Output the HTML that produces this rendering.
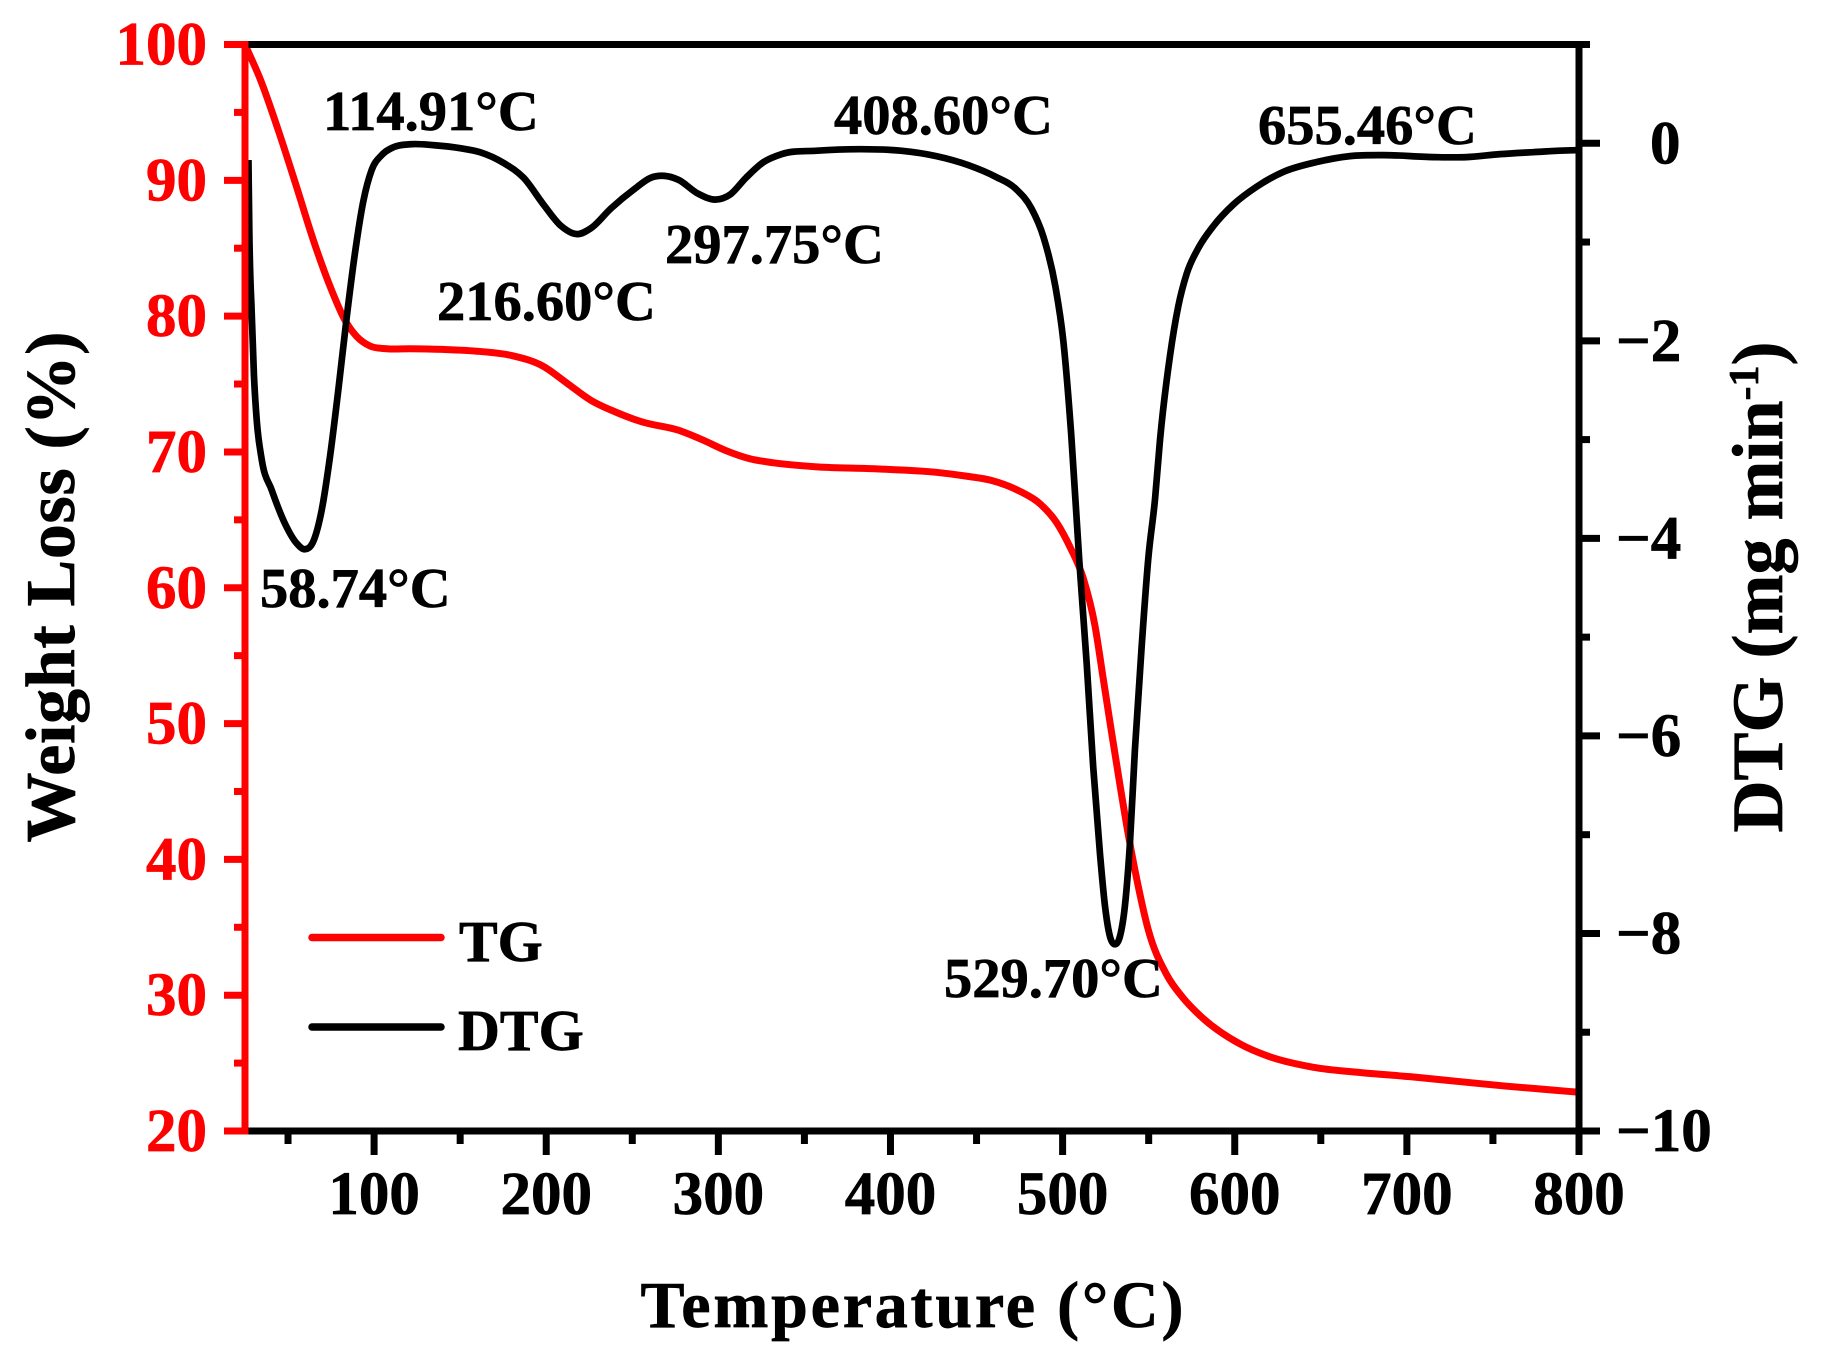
<!DOCTYPE html>
<html>
<head>
<meta charset="utf-8">
<title>TG and DTG curves</title>
<style>
html,body{margin:0;padding:0;background:#fff;}
svg{display:block;}
text{font-family:"Liberation Serif",serif;font-weight:bold;stroke:#000;stroke-width:.7;}
text.red{stroke:#f00;}
</style>
</head>
<body>
<svg id="chart" xmlns="http://www.w3.org/2000/svg" width="1822" height="1359" viewBox="0 0 1822 1359">
<rect x="0" y="0" width="1822" height="1359" fill="#fff"/>
<g id="marks"></g>
<g id="axes"></g>
<g font-size="56.5" fill="#000">
<text x="323" y="130">114.91°C</text>
<text x="437" y="320">216.60°C</text>
<text x="665" y="263">297.75°C</text>
<text x="834" y="134">408.60°C</text>
<text x="1258" y="144">655.46°C</text>
<text x="944" y="997">529.70°C</text>
<text x="260" y="607">58.74°C</text>
</g>
<g>
<line x1="312" y1="937.5" x2="441" y2="937.5" stroke="#f00" stroke-width="7.5" stroke-linecap="round"/>
<text x="459" y="961" font-size="58">TG</text>
<line x1="312" y1="1027" x2="441" y2="1027" stroke="#000" stroke-width="7.5" stroke-linecap="round"/>
<text x="458" y="1050" font-size="58">DTG</text>
</g>
<text x="912" y="1327" font-size="66" text-anchor="middle" textLength="543" lengthAdjust="spacing">Temperature (°C)</text>
<text transform="translate(74,587) rotate(-90)" font-size="70" text-anchor="middle" textLength="511" lengthAdjust="spacing">Weight Loss (%)</text>
<text transform="translate(1782,587) rotate(-90)" font-size="72" text-anchor="middle">DTG (mg min<tspan dy="-24" font-size="42">-1</tspan><tspan dy="24">)</tspan></text>
</svg>
<script>
// ---- chart data ----
const tgTemps = [25,34,44.3,55,64.7,74.4,83.1,89.9,97.6,107.3,120.9,140,161.5,179.9,198.4,212.2,226,239.9,256,276.8,290.6,304.4,318.3,332.1,357.5,392,426.6,445,458.8,475.2,486.9,496.5,504.3,512,518.8,523.6,528.5,533.3,538.2,543,549.8,560.5,570,579.8,603.2,619.6,645.3,673.4,701.7,729.7,757.9,786,800];
const tgWeight = [100,97.4,93.7,89.5,85.6,82.2,79.7,78.5,77.8,77.6,77.6,77.55,77.4,77.1,76.3,75.05,73.8,72.96,72.2,71.6,70.9,70.1,69.5,69.2,68.9,68.75,68.5,68.2,67.9,67.1,66.18,64.8,63,60.7,57.2,53.3,49.3,45.5,41.8,38.6,34.8,31.5,29.8,28.5,26.4,25.5,24.7,24.3,24,23.65,23.3,23,22.85];
const dtgTemps = [27,27.5,28.9,30.2,31.8,34.7,40.5,48.2,55,59.9,64.7,69.6,74.4,79.2,84.1,88.9,93.7,98.6,104.4,111.2,120.9,135,150,161.5,175.3,186.9,198.4,208.8,218,226,237.6,251.5,260.6,268.7,276.8,288.2,298.6,306.8,316,326.3,336.7,357.5,382.9,405.9,426.6,445,461.2,472.7,481.9,488.9,495.8,500.4,505,509.7,514,517.8,521.7,524.6,527.5,530.4,533.3,536.2,539.1,542,545.9,549.8,553.7,556.6,562.4,567.2,572.1,578.9,587.5,599.2,612.7,628.2,647.6,667,686.3,715.4,734.7,754.1,773.4,798.7,800];
const dtgValues = [-0.17,-0.88,-1.72,-2.35,-2.8,-3.2,-3.51,-3.85,-4.05,-4.11,-4.03,-3.71,-3.17,-2.5,-1.76,-1.11,-0.59,-0.27,-0.12,-0.04,-0.01,-0.02,-0.05,-0.09,-0.2,-0.35,-0.62,-0.84,-0.92,-0.86,-0.66,-0.46,-0.35,-0.33,-0.37,-0.51,-0.57,-0.52,-0.35,-0.19,-0.11,-0.075,-0.06,-0.075,-0.13,-0.22,-0.34,-0.46,-0.66,-0.95,-1.45,-2.0,-2.95,-4.23,-5.27,-6.32,-7.19,-7.72,-8.03,-8.11,-8.03,-7.72,-7.09,-6.14,-5.1,-4.2,-3.6,-3.0,-2.15,-1.65,-1.32,-1.06,-0.84,-0.62,-0.44,-0.29,-0.19,-0.13,-0.12,-0.14,-0.14,-0.11,-0.09,-0.07,-0.07];
const xMajorTicks = [100,200,300,400,500,600,700,800];
const xMinorTicks = [50,150,250,350,450,550,650,750];
const leftMajorTicks = [20,30,40,50,60,70,80,90,100];
const leftMinorTicks = [25,35,45,55,65,75,85,95];
const rightMajorTicks = [-10,-8,-6,-4,-2,0];
const rightMinorTicks = [-9,-7,-5,-3,-1,1];
const xDomain = [25,800];
const leftDomain = [20,100];
const rightDomain = [-10,1];

// ---- scales ----
const plot = {left:245, right:1579, top:44.5, bottom:1131};
function xScale(t){ return plot.left + (t - xDomain[0]) / (xDomain[1] - xDomain[0]) * (plot.right - plot.left); }
function leftScale(v){ return plot.bottom - (v - leftDomain[0]) / (leftDomain[1] - leftDomain[0]) * (plot.bottom - plot.top); }
function rightScale(v){ return plot.bottom - (v - rightDomain[0]) / (rightDomain[1] - rightDomain[0]) * (plot.bottom - plot.top); }

const NS = 'http://www.w3.org/2000/svg';
function mk(tag, parent, attrs, txt){
  const el = document.createElementNS(NS, tag);
  for (const k in attrs) el.setAttribute(k, attrs[k]);
  if (txt !== undefined) el.textContent = txt;
  parent.appendChild(el);
  return el;
}
// cubic Hermite through points, tangents from non-uniform three-point differences
function smoothPath(pts){
  const n = pts.length, m = [];
  for (let i = 0; i < n; i++){
    if (i === 0) m.push((pts[1][1]-pts[0][1])/(pts[1][0]-pts[0][0]));
    else if (i === n-1) m.push((pts[n-1][1]-pts[n-2][1])/(pts[n-1][0]-pts[n-2][0]));
    else {
      const h0 = pts[i][0]-pts[i-1][0], h1 = pts[i+1][0]-pts[i][0];
      const d0 = (pts[i][1]-pts[i-1][1])/h0, d1 = (pts[i+1][1]-pts[i][1])/h1;
      m.push((d0*h1 + d1*h0)/(h0+h1));
    }
  }
  let d = 'M' + pts[0][0].toFixed(2) + ' ' + pts[0][1].toFixed(2);
  for (let i = 0; i < n-1; i++){
    const h = pts[i+1][0]-pts[i][0];
    const vals = [pts[i][0]+h/3, pts[i][1]+m[i]*h/3, pts[i+1][0]-h/3, pts[i+1][1]-m[i+1]*h/3, pts[i+1][0], pts[i+1][1]];
    d += 'C' + vals.map(v => v.toFixed(2)).join(' ');
  }
  return d;
}

const marks = document.getElementById('marks');
const axes = document.getElementById('axes');

const dtgLine = mk('path', marks, {d:smoothPath(dtgTemps.map((t,i)=>[xScale(t),rightScale(dtgValues[i])])), fill:'none', stroke:'#000', 'stroke-width':6.7, 'stroke-linejoin':'round'});


const tgLine = mk('path', marks, {d:smoothPath(tgTemps.map((t,i)=>[xScale(t),leftScale(tgWeight[i])])), fill:'none', stroke:'#f00', 'stroke-width':7, 'stroke-linejoin':'round'});


marks.insertBefore(tgLine, dtgLine);

const W = 7;
// frame lines
const topAxis = mk('line', axes, {x1:plot.left, y1:plot.top, x2:plot.right+3.5, y2:plot.top, stroke:'#000', 'stroke-width':W});


const bottomAxis = mk('line', axes, {x1:plot.left, y1:plot.bottom, x2:plot.right+3.5, y2:plot.bottom, stroke:'#000', 'stroke-width':W});


const rightAxis = mk('line', axes, {x1:plot.right, y1:plot.top-3.5, x2:plot.right, y2:plot.bottom+3.5, stroke:'#000', 'stroke-width':W});


const leftAxis = mk('line', axes, {x1:plot.left, y1:plot.top-3.5, x2:plot.left, y2:plot.bottom+3.5, stroke:'#f00', 'stroke-width':W});



// x ticks
xMajorTicks.forEach(t => {
  const x = xScale(t);
  const tick = mk('line', axes, {x1:x, y1:plot.bottom, x2:x, y2:plot.bottom+24, stroke:'#000', 'stroke-width':W});
  
  
  const lab = mk('text', axes, {x:x, y:1214, 'font-size':61, 'text-anchor':'middle', fill:'#000'}, String(t));
  
  
});
xMinorTicks.forEach(t => {
  const x = xScale(t);
  const tick = mk('line', axes, {x1:x, y1:plot.bottom, x2:x, y2:plot.bottom+13, stroke:'#000', 'stroke-width':W});
  
  
});
// left ticks
leftMajorTicks.forEach(v => {
  const y = leftScale(v);
  const tick = mk('line', axes, {x1:plot.left-21, y1:y, x2:plot.left, y2:y, stroke:'#f00', 'stroke-width':W});
  
  
  const lab = mk('text', axes, {x:207, y:y+20, 'font-size':61, 'text-anchor':'end', fill:'#f00', class:'red'}, String(v));
  
  
});
leftMinorTicks.forEach(v => {
  const y = leftScale(v);
  const tick = mk('line', axes, {x1:plot.left-11, y1:y, x2:plot.left, y2:y, stroke:'#f00', 'stroke-width':W});
  
  
});
// right ticks
rightMajorTicks.forEach(v => {
  const y = rightScale(v);
  const tick = mk('line', axes, {x1:plot.right, y1:y, x2:plot.right+21, y2:y, stroke:'#000', 'stroke-width':W});
  
  
  const lab = mk('text', axes, {x:1616, y:y+20, 'font-size':61, fill:'#000'}, v < 0 ? '\u2212' + Math.abs(v) : String(v));
  
  
  if (v === 0) lab.setAttribute('x', 1650);
});
rightMinorTicks.forEach(v => {
  const y = rightScale(v);
  const tick = mk('line', axes, {x1:plot.right, y1:y, x2:plot.right+11, y2:y, stroke:'#000', 'stroke-width':W});
  
  
});
</script>
</body>
</html>
